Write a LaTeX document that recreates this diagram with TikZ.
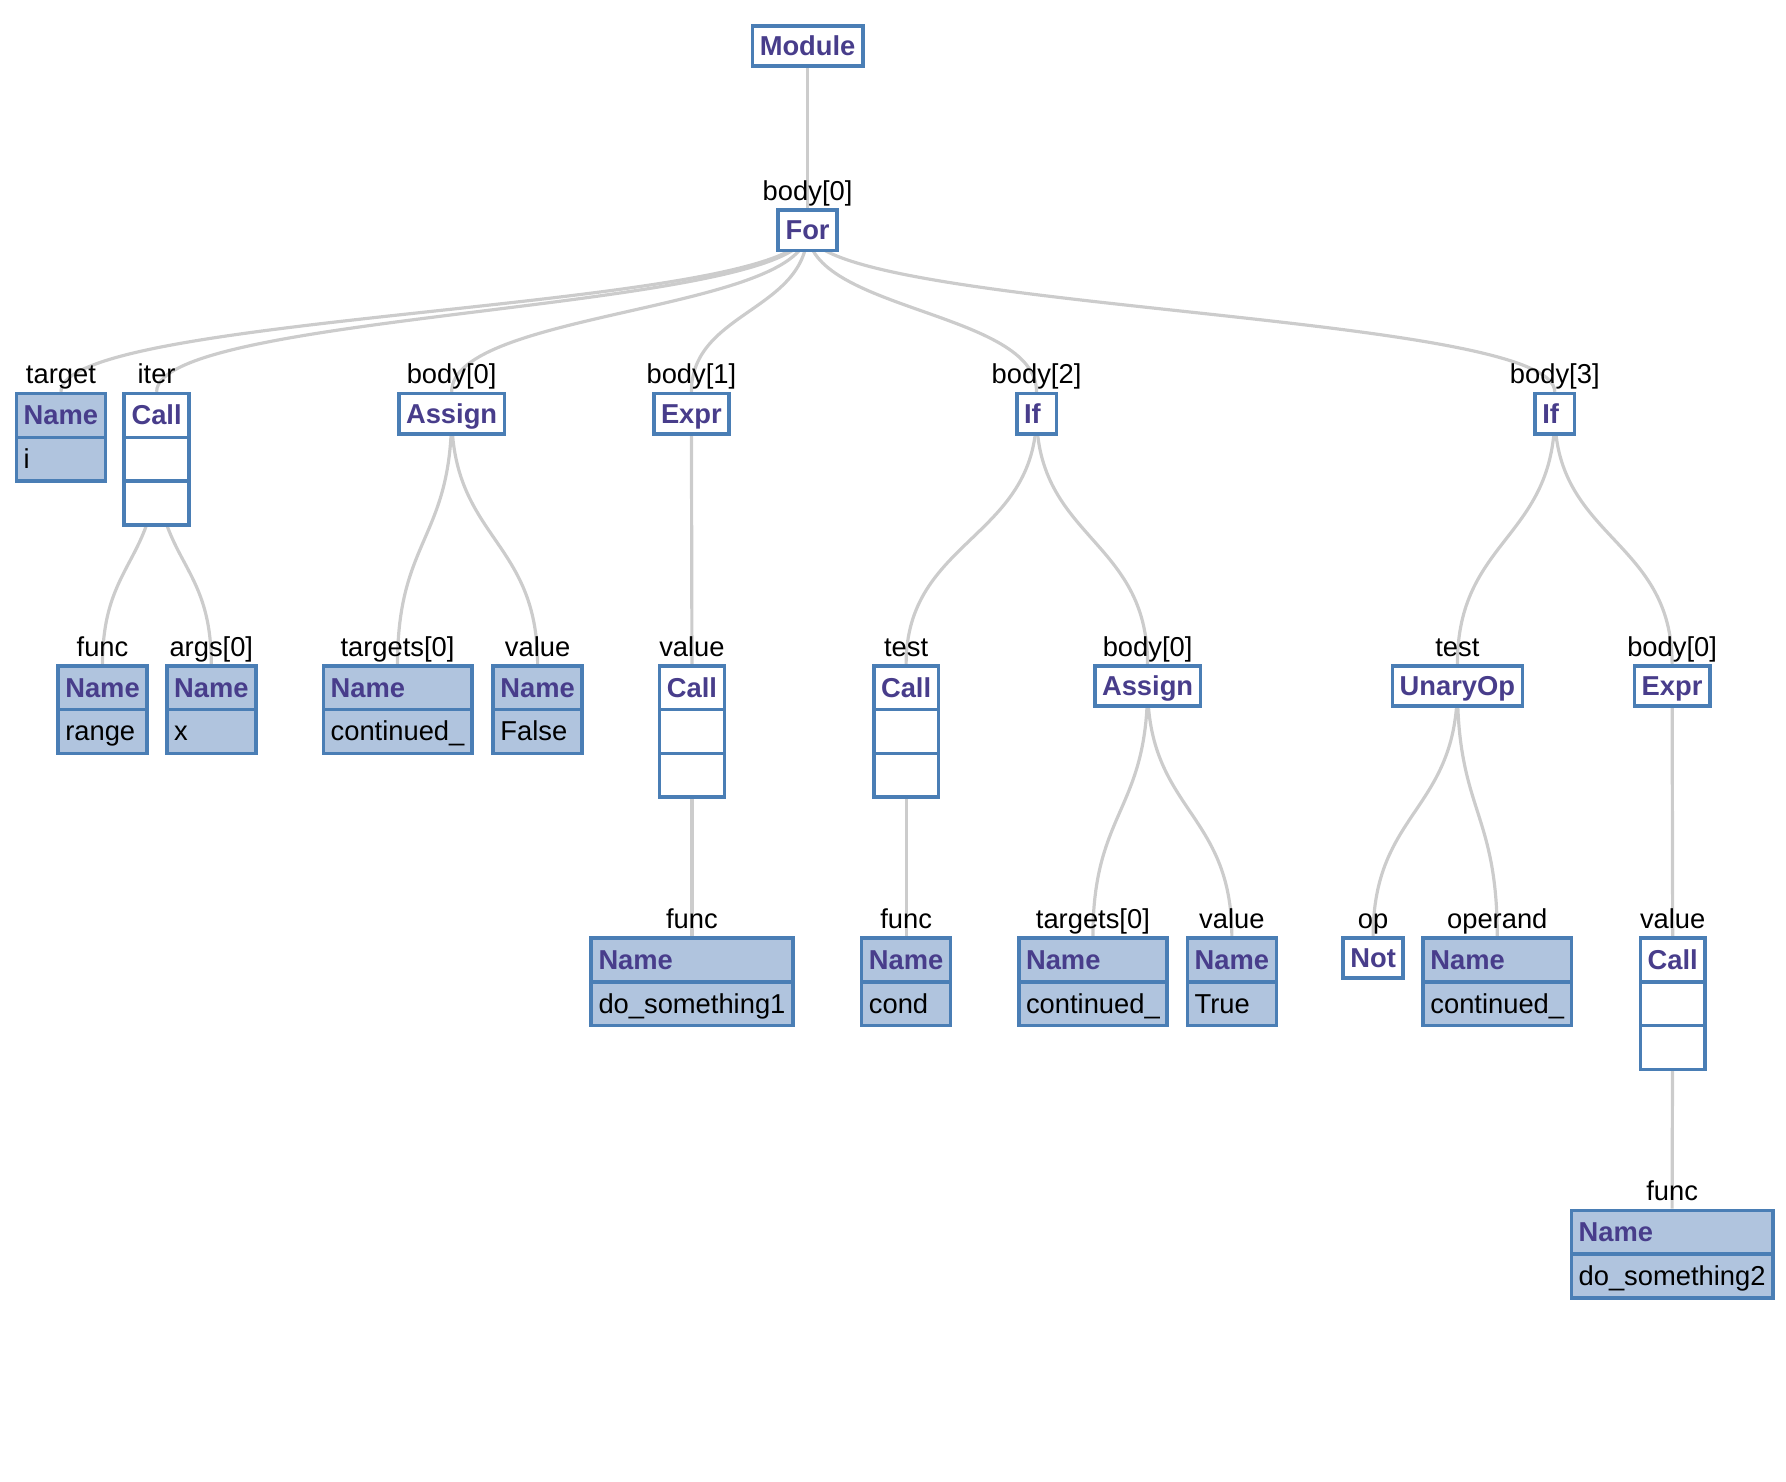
\documentclass[tikz,border=0pt]{standalone}
\usepackage{fontspec}
\setmainfont{Liberation Sans}
\usepackage{xcolor}
\usepackage{tikz}
\usetikzlibrary{shapes.multipart, backgrounds, calc}
\definecolor{nodeline}{HTML}{4A7EB5}
\definecolor{nodehead}{HTML}{483D8B}
\definecolor{namefill}{HTML}{B0C4DE}
\definecolor{linkgray}{HTML}{CCCCCC}
\newcommand{\rowstrut}{\rule[-4.7pt]{0pt}{17.6pt}}
\newcommand{\nameval}[1]{\nodepart{two}\mdseries\color{black}#1\rowstrut}
\newcommand{\callrows}{\nodepart{two}\rowstrut\nodepart{three}\rowstrut}

\begin{document}
\begin{tikzpicture}[x=0.5pt, y=-0.5pt, font=\fontsize{12}{14}\selectfont,
  ast/.style={draw=nodeline, line width=1.6pt, fill=white, anchor=north,
    inner xsep=3.2pt, inner ysep=0pt, text=nodehead,
    font=\fontsize{12}{14}\selectfont\bfseries},
  narrow/.style={ast, text width=11pt},
  namebox/.style={ast, fill=namefill, rectangle split, rectangle split parts=2,
    rectangle split part align=left},
  callbox/.style={ast, rectangle split, rectangle split parts=3},
  field/.style={anchor=base, label distance=3.5pt, text=black,
    font=\fontsize{12}{14}\selectfont},
  link/.style={draw=linkgray, line width=1.4pt}]
  \useasboundingbox (0,0) rectangle (1568,1301);

  \node[ast] (mod) at (709,21) {Module\rowstrut};
  \node[ast, label={[field]above:body[0]}] (for) at (709,183) {For\rowstrut};

  \node[namebox, label={[field]above:target}] (tgt) at (53.5,344) {Name\rowstrut\nameval{i}};
  \node[callbox, label={[field]above:iter}] (iter) at (137.5,344) {Call\rowstrut\callrows};
  \node[ast, label={[field]above:body[0]}] (asg1) at (396.5,344) {Assign\rowstrut};
  \node[ast, label={[field]above:body[1]}] (expr1) at (607,344) {Expr\rowstrut};
  \node[narrow, label={[field]above:body[2]}] (if1) at (910,344) {If\rowstrut};
  \node[narrow, label={[field]above:body[3]}] (if2) at (1365,344) {If\rowstrut};

  \node[namebox, label={[field]above:func}] (rng) at (90,583) {Name\rowstrut\nameval{range}};
  \node[namebox, label={[field]above:args[0]}] (argx) at (185.5,583) {Name\rowstrut\nameval{x}};
  \node[namebox, label={[field]above:targets[0]}] (tgt1) at (349,583) {Name\rowstrut\nameval{continued\_}};
  \node[namebox, label={[field]above:value}] (fls) at (472,583) {Name\rowstrut\nameval{False}};
  \node[callbox, label={[field]above:value}] (call1) at (607.5,583) {Call\rowstrut\callrows};
  \node[callbox, label={[field]above:test}] (call2) at (795.5,583) {Call\rowstrut\callrows};
  \node[ast, label={[field]above:body[0]}] (asg2) at (1007.5,583) {Assign\rowstrut};
  \node[ast, label={[field]above:test}] (unop) at (1279.5,583) {UnaryOp\rowstrut};
  \node[ast, label={[field]above:body[0]}] (expr2) at (1468,583) {Expr\rowstrut};

  \node[namebox, label={[field]above:func}] (ds1) at (607.5,822) {Name\rowstrut\nameval{do\_something1}};
  \node[namebox, label={[field]above:func}] (cond) at (795.5,822) {Name\rowstrut\nameval{cond}};
  \node[namebox, label={[field]above:targets[0]}] (tgt2) at (959.5,822) {Name\rowstrut\nameval{continued\_}};
  \node[namebox, label={[field]above:value}] (tru) at (1081.5,822) {Name\rowstrut\nameval{True}};
  \node[ast, label={[field]above:op}] (nt) at (1205.5,822) {Not\rowstrut};
  \node[namebox, label={[field]above:operand}] (opd) at (1314.5,822) {Name\rowstrut\nameval{continued\_}};
  \node[callbox, label={[field]above:value}] (call3) at (1468.5,822) {Call\rowstrut\callrows};

  \node[namebox, label={[field]above:func}] (ds2) at (1468,1061) {Name\rowstrut\nameval{do\_something2}};

  \begin{scope}[on background layer]
    \foreach \src/\dst in {mod/for, for/tgt, for/iter, for/asg1, for/expr1, for/if1, for/if2,
        iter/rng, iter/argx, asg1/tgt1, asg1/fls, expr1/call1, call1/ds1,
        if1/call2, if1/asg2, call2/cond, asg2/tgt2, asg2/tru,
        if2/unop, if2/expr2, unop/nt, unop/opd, expr2/call3, call3/ds2}
      \draw[link] let \p1=(\src.center), \p2=(\dst.north), \p3=($(\p1)!.5!(\p2)$) in
        (\p1) .. controls (\x1,\y3) and (\x2,\y3) .. (\p2);
  \end{scope}
\end{tikzpicture}
\end{document}
